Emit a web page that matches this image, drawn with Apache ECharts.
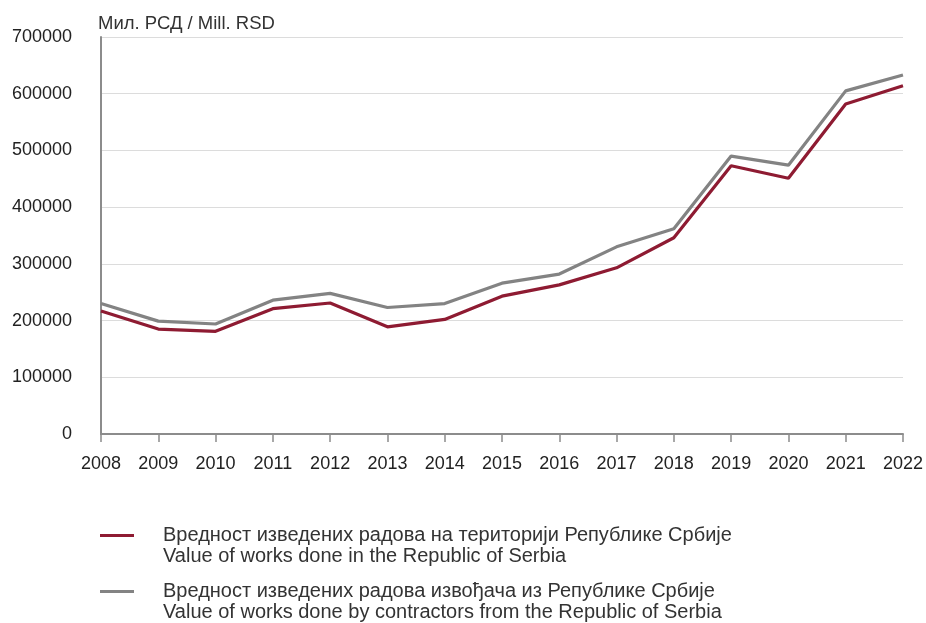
<!DOCTYPE html>
<html>
<head>
<meta charset="utf-8">
<script src="https://cdn.jsdelivr.net/npm/echarts@6/dist/echarts.min.js"></script>
<style>
html,body{margin:0;padding:0;background:#fff;}
#chart{width:926px;height:623px;}
</style>
</head>
<body>
<div id="chart"></div>
<script>
var years = ['2008','2009','2010','2011','2012','2013','2014','2015','2016','2017','2018','2019','2020','2021','2022'];
var territoryValues = [217000,185000,181000,221000,231000,189000,202000,243000,263000,293000,346000,473000,451000,582000,614000];
var contractorValues = [230000,199000,194000,236000,248000,223000,230000,266000,282000,330000,362000,490000,474000,605000,633000];
var yTicks = [0,100000,200000,300000,400000,500000,600000,700000];
var unitLabel = 'Мил. РСД / Мill. RSD';
var seriesNames = ['Вредност изведених радова на територији Републике Србије','Вредност изведених радова извођача из Републике Србије'];
var seriesNamesEn = ['Value of works done in the Republic of Serbia','Value of works done by contractors from the Republic of Serbia'];

var RED = '#8e1b32', GRAY = '#838383';
var FONT = '"Liberation Sans", Arial, sans-serif';
var chart = echarts.init(document.getElementById('chart'), null, {renderer:'canvas'});

function legendFor(i, top){
  return {
    data:[seriesNames[i]], left:100, top:top, padding:0, orient:'vertical',
    icon:'rect', itemWidth:34, itemHeight:3, selectedMode:false,
    formatter:function(n){ return ' \n' + n + '\n' + seriesNamesEn[i]; },
    textStyle:{fontFamily:FONT, fontSize:20, color:'#333', lineHeight:21, padding:[0,0,0,24]}
  };
}

chart.setOption({
  animation:false,
  backgroundColor:'#fff',
  grid:{left:101, right:23, top:37, bottom:189, containLabel:false},
  title:{text:unitLabel, left:98, top:14, padding:0,
    textStyle:{fontFamily:FONT, fontSize:18.5, fontWeight:'normal', color:'#333'}},
  legend:[legendFor(0, 504), legendFor(1, 560)],
  xAxis:{
    type:'category', data:years, boundaryGap:false,
    axisLine:{lineStyle:{color:'#8c8c8c', width:2}},
    axisTick:{show:true, length:8, alignWithLabel:true, lineStyle:{color:'#8c8c8c', width:1.5}},
    axisLabel:{fontFamily:FONT, fontSize:18, color:'#222', margin:21, interval:0},
    splitLine:{show:false}
  },
  yAxis:{
    type:'value', min:0, max:700000, interval:100000,
    axisLine:{show:true, lineStyle:{color:'#8c8c8c', width:2}},
    axisTick:{show:false},
    axisLabel:{fontFamily:FONT, fontSize:18, color:'#222', margin:29,
      formatter:function(v){ return yTicks.indexOf(v) >= 0 ? String(v) : ''; }},
    splitLine:{show:true, lineStyle:{color:'#dcdcdc', width:1.2}}
  },
  series:[
    {name:seriesNames[1], type:'line', data:contractorValues, symbol:'none',
      lineStyle:{color:GRAY, width:3.2}, itemStyle:{color:GRAY}},
    {name:seriesNames[0], type:'line', data:territoryValues, symbol:'none',
      lineStyle:{color:RED, width:3.2}, itemStyle:{color:RED}}
  ]
});
</script>
</body>
</html>
